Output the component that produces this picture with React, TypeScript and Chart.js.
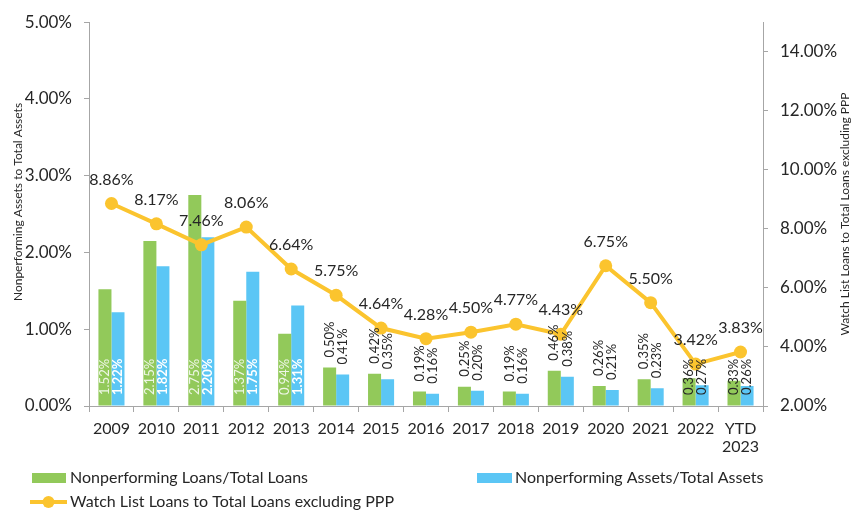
import React, { useEffect, useRef } from "react";
import { Chart, registerables } from "chart.js";

Chart.register(...registerables);

const categories: (string | string[])[] = [
  "2009", "2010", "2011", "2012", "2013", "2014", "2015", "2016",
  "2017", "2018", "2019", "2020", "2021", "2022", ["YTD", "2023"],
];
const nplToLoans = [1.52, 2.15, 2.75, 1.37, 0.94, 0.5, 0.42, 0.19, 0.25, 0.19, 0.46, 0.26, 0.35, 0.36, 0.33];
const npaToAssets = [1.22, 1.82, 2.2, 1.75, 1.31, 0.41, 0.35, 0.16, 0.2, 0.16, 0.38, 0.21, 0.23, 0.27, 0.26];
const watchList = [8.86, 8.17, 7.46, 8.06, 6.64, 5.75, 4.64, 4.28, 4.5, 4.77, 4.43, 6.75, 5.5, 3.42, 3.83];

const seriesNames = [
  "Nonperforming Loans/Total Loans",
  "Nonperforming Assets/Total Assets",
  "Watch List Loans to Total Loans excluding PPP",
];
const leftTitle = "Nonperforming Assets to Total Assets";
const rightTitle = "Watch List Loans to Total Loans excluding PPP";

// styling
const GREEN = "#92C95A";
const BLUE = "#5BC6F5";
const GOLD = "#FBC42E";
const AXIS = "#A6A6A6";
const TEXT = "#262626";
const FONT = "Lato, 'Open Sans', sans-serif";
const insideBaseIdx = [0, 1, 2, 3, 4, 13, 14];
const lightInsideIdx = [0, 1, 2, 3, 4];

const pct = (v: number) => v.toFixed(2) + "%";

const labelPlugin = {
  id: "customLabels",
  afterDatasetsDraw(chart: any) {
    const ctx = chart.ctx as CanvasRenderingContext2D;
    const yScale = chart.scales.y;
    const base = yScale.getPixelForValue(0);
    // bar labels
    [1, 2].forEach((di) => {
      const meta = chart.getDatasetMeta(di);
      const data = chart.data.datasets[di].data as number[];
      meta.data.forEach((el: any, i: number) => {
        const text = pct(data[i]);
        const inside = insideBaseIdx.includes(i);
        const light = lightInsideIdx.includes(i);
        let color = TEXT;
        let weight = "normal";
        if (light) {
          color = di === 1 ? "#EEF6E6" : "#FFFFFF";
          weight = di === 1 ? "normal" : "bold";
        }
        const yStart = inside ? base - 11 : el.y - 10;
        ctx.save();
        ctx.translate(el.x, yStart);
        ctx.rotate(-Math.PI / 2);
        ctx.font = `${weight} 13px ${FONT}`;
        ctx.fillStyle = color;
        ctx.textAlign = "left";
        ctx.textBaseline = "middle";
        ctx.fillText(text, 0, 0);
        ctx.restore();
      });
    });
    // line labels
    const lmeta = chart.getDatasetMeta(0);
    const ldata = chart.data.datasets[0].data as number[];
    ctx.save();
    ctx.font = `16px ${FONT}`;
    ctx.fillStyle = TEXT;
    ctx.textAlign = "center";
    ctx.textBaseline = "middle";
    lmeta.data.forEach((el: any, i: number) => {
      ctx.fillText(pct(ldata[i]), el.x, el.y - 24);
    });
    ctx.restore();
  },
  afterDraw(chart: any) {
    const ctx = chart.ctx as CanvasRenderingContext2D;
    const ca = chart.chartArea;
    // axis titles
    ctx.save();
    ctx.font = `12px ${FONT}`;
    ctx.fillStyle = TEXT;
    ctx.textAlign = "center";
    ctx.textBaseline = "middle";
    ctx.translate(18, 202);
    ctx.rotate(-Math.PI / 2);
    ctx.fillText(leftTitle, 0, 0);
    ctx.restore();
    ctx.save();
    ctx.font = `12px ${FONT}`;
    ctx.fillStyle = TEXT;
    ctx.textAlign = "center";
    ctx.textBaseline = "middle";
    ctx.translate(845, (ca.top + ca.bottom) / 2);
    ctx.rotate(-Math.PI / 2);
    ctx.fillText(rightTitle, 0, 0);
    ctx.restore();
    // legend
    ctx.save();
    ctx.font = `16px ${FONT}`;
    ctx.fillStyle = TEXT;
    ctx.textAlign = "left";
    ctx.textBaseline = "middle";
    const r1 = 478;
    const r2 = 502;
    ctx.fillStyle = GREEN;
    ctx.fillRect(32, r1 - 5, 34, 10);
    ctx.fillStyle = TEXT;
    ctx.fillText(seriesNames[0], 70, r1);
    ctx.fillStyle = BLUE;
    ctx.fillRect(477, r1 - 5, 35, 10);
    ctx.fillStyle = TEXT;
    ctx.fillText(seriesNames[1], 515, r1);
    ctx.strokeStyle = GOLD;
    ctx.lineWidth = 4;
    ctx.beginPath();
    ctx.moveTo(30, r2);
    ctx.lineTo(67, r2);
    ctx.stroke();
    ctx.fillStyle = GOLD;
    ctx.beginPath();
    ctx.arc(48.5, r2, 6, 0, Math.PI * 2);
    ctx.fill();
    ctx.fillStyle = TEXT;
    ctx.fillText(seriesNames[2], 70, r2);
    ctx.restore();
  },
};

export default function App() {
  const ref = useRef<HTMLCanvasElement | null>(null);
  useEffect(() => {
    if (!ref.current) return;
    const chart = new Chart(ref.current, {
      type: "bar",
      data: {
        labels: categories as any,
        datasets: [
          {
            type: "line",
            label: seriesNames[2],
            data: watchList,
            yAxisID: "y1",
            borderColor: GOLD,
            backgroundColor: GOLD,
            borderWidth: 4,
            pointRadius: 6.5,
            pointBackgroundColor: GOLD,
            pointBorderColor: GOLD,
            pointBorderWidth: 0,
            tension: 0,
            order: 0,
          } as any,
          {
            type: "bar",
            label: seriesNames[0],
            data: nplToLoans,
            yAxisID: "y",
            backgroundColor: GREEN,
            categoryPercentage: 0.58,
            barPercentage: 1,
            order: 1,
          },
          {
            type: "bar",
            label: seriesNames[1],
            data: npaToAssets,
            yAxisID: "y",
            backgroundColor: BLUE,
            categoryPercentage: 0.58,
            barPercentage: 1,
            order: 1,
          },
        ],
      },
      options: {
        responsive: false,
        animation: false,
        layout: { padding: { top: 16, left: 0, right: 0, bottom: 0 } },
        plugins: {
          legend: { display: false },
          tooltip: { enabled: false },
        },
        scales: {
          x: {
            offset: true,
            grid: {
              display: true,
              drawOnChartArea: false,
              drawTicks: true,
              tickLength: 6,
              color: AXIS,
              offset: true,
            },
            border: { display: true, color: AXIS, width: 1 },
            ticks: {
              color: TEXT,
              font: { family: FONT, size: 16, lineHeight: 1.1 },
              padding: 8,
              maxRotation: 0,
              autoSkip: false,
            },
            afterFit: (s: any) => {
              s.height = 113;
            },
          },
          y: {
            position: "left",
            min: 0,
            max: 5,
            grid: {
              display: true,
              drawOnChartArea: false,
              drawTicks: true,
              tickLength: 5,
              color: AXIS,
            },
            border: { display: true, color: AXIS, width: 1 },
            ticks: {
              stepSize: 1,
              color: TEXT,
              font: { family: FONT, size: 17 },
              padding: 12,
              callback: (v: any) => pct(Number(v)),
            },
            afterFit: (s: any) => {
              s.width = 89;
            },
          },
          y1: {
            position: "right",
            min: 2,
            max: 15,
            grid: {
              display: true,
              drawOnChartArea: false,
              drawTicks: true,
              tickLength: 5,
              color: AXIS,
            },
            border: { display: true, color: AXIS, width: 1 },
            ticks: {
              stepSize: 2,
              includeBounds: false,
              color: TEXT,
              font: { family: FONT, size: 17 },
              padding: 12,
              callback: (v: any) => pct(Number(v)),
            },
            afterFit: (s: any) => {
              s.width = 93;
            },
          },
        },
      },
      plugins: [labelPlugin],
    });
    return () => chart.destroy();
  }, []);
  return (
    <div style={{ position: "absolute", left: 0, top: 0, width: 856, height: 519, background: "#fff" }}>
      <canvas ref={ref} width={856} height={519} style={{ display: "block" }} />
    </div>
  );
}
